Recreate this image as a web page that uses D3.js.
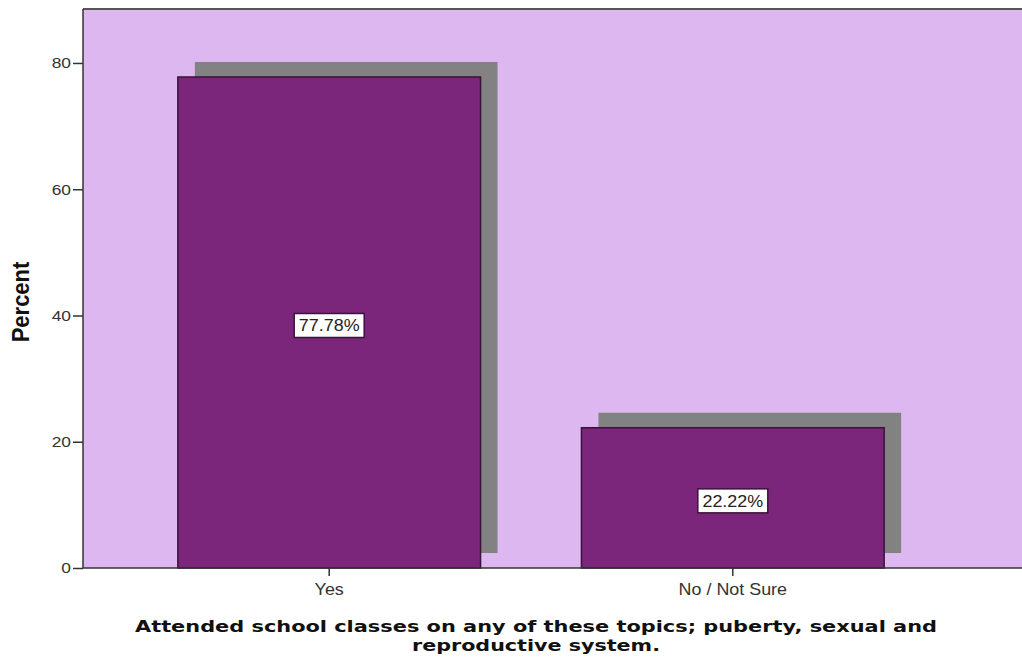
<!DOCTYPE html>
<html><head><meta charset="utf-8">
<script src="https://cdn.jsdelivr.net/npm/d3@7"></script>
<style>body{margin:0;background:#fff}svg{display:block}</style>
</head><body>
<svg id="c" width="1022" height="662"></svg>
<script>
const categories = ["Yes", "No / Not Sure"];
const percents = [77.78, 22.22];
const valueLabels = ["77.78%", "22.22%"];
const yTicks = [0, 20, 40, 60, 80];
const yTitle = "Percent";
const xTitleLines = ["Attended school classes on any of these topics; puberty, sexual and", "reproductive system."];

(function () {
const svg = d3.select("#c");
const pL = 83, pT = 9, pB = 568, pR = 1022;
const sx = 1.12; // horizontal stretch of the text
const font = "Liberation Sans, Arial, sans-serif";
const y = d3.scaleLinear().domain([0, 88.55]).range([pB, pT]);
const x = d3.scaleBand().domain(categories).range([83, 979]).paddingInner(0.25).paddingOuter(0.235);

svg.append("rect").attr("x", pL).attr("y", pT).attr("width", pR - pL + 5).attr("height", pB - pT)
  .attr("fill", "#DDB8F0");
svg.append("line").attr("x1", pL).attr("x2", pR).attr("y1", pT).attr("y2", pT)
  .attr("stroke", "#555").attr("stroke-width", 2);

const data = categories.map((c, i) => ({c, v: percents[i], l: valueLabels[i]}));
const sdx = 17, sdy = 15;
svg.selectAll("rect.sh").data(data).join("rect").attr("class", "sh")
  .attr("x", d => x(d.c) + sdx).attr("y", d => y(d.v) - sdy)
  .attr("width", x.bandwidth()).attr("height", d => y(0) - y(d.v))
  .attr("fill", "#828282");
svg.selectAll("rect.bar").data(data).join("rect").attr("class", "bar")
  .attr("x", d => x(d.c)).attr("y", d => y(d.v))
  .attr("width", x.bandwidth()).attr("height", d => y(0) - y(d.v))
  .attr("fill", "#7B267B").attr("stroke", "#3A123A").attr("stroke-width", 1.5);

const lg = svg.selectAll("g.lab").data(data).join("g").attr("class", "lab")
  .attr("transform", d => `translate(${x(d.c) + x.bandwidth() / 2},${y(d.v / 2) + 3})`);
lg.append("rect").attr("x", -35).attr("y", -12).attr("width", 70).attr("height", 24)
  .attr("fill", "#fff").attr("stroke", "#3A123A").attr("stroke-width", 1.5);
lg.append("text").text(d => d.l).attr("text-anchor", "middle").attr("dy", "0.36em")
  .attr("transform", `scale(${sx},1)`)
  .attr("font-family", font).attr("font-size", 16).attr("fill", "#222");

const ya = svg.append("g").attr("transform", `translate(${pL},0)`)
  .call(d3.axisLeft(y).tickValues(yTicks).tickSize(10).tickPadding(2));
ya.select(".domain").attr("d", `M0,${pT}V${pB}`).attr("stroke", "#333").attr("stroke-width", 1.5);
ya.selectAll(".tick line").attr("stroke", "#333").attr("stroke-width", 1.5);
ya.selectAll(".tick text").each(function () {
  const t = d3.select(this);
  const xx = +t.attr("x");
  t.attr("x", xx / sx).attr("transform", `scale(${sx},1)`);
}).attr("font-family", font).attr("font-size", 15.5).attr("fill", "#333");

const xa = svg.append("g").attr("transform", `translate(0,${pB})`)
  .call(d3.axisBottom(x).tickSize(8).tickPadding(8));
xa.select(".domain").attr("d", `M${pL},0H${pR}`).attr("stroke", "#333").attr("stroke-width", 1.5);
xa.selectAll(".tick line").attr("stroke", "#333").attr("stroke-width", 1.5);
xa.selectAll(".tick text").attr("transform", `scale(${sx},1)`)
  .attr("font-family", font).attr("font-size", 16).attr("fill", "#333");

svg.append("text").text(yTitle).attr("transform", `translate(29,302) scale(${sx},1) rotate(-90)`)
  .attr("text-anchor", "middle").attr("font-family", font)
  .attr("font-weight", "bold").attr("font-size", 22).attr("fill", "#111");

const titleWidths = [802, 248];
svg.selectAll("text.xt").data(xTitleLines).join("text").attr("class", "xt")
  .text(d => d).attr("x", (d, i) => 536 - titleWidths[i] / 2).attr("y", (d, i) => 632 + i * 19)
  .attr("textLength", (d, i) => titleWidths[i]).attr("lengthAdjust", "spacingAndGlyphs")
  .attr("font-family", "DejaVu Sans, sans-serif")
  .attr("font-weight", "bold").attr("font-size", 16).attr("fill", "#111");
})();
</script>
</body></html>
